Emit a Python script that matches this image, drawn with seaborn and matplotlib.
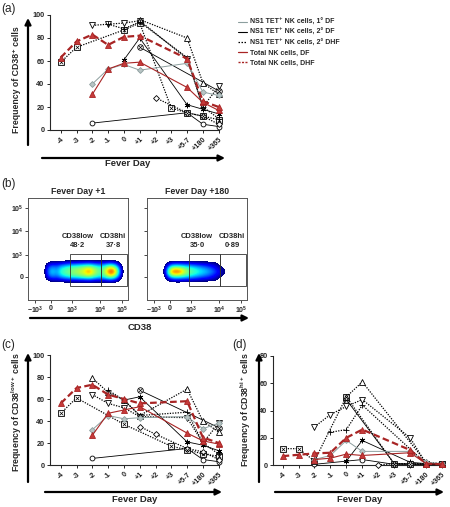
import numpy as np
import pandas as pd
import matplotlib
matplotlib.use("Agg")
import matplotlib.pyplot as plt
import seaborn as sns
from matplotlib.lines import Line2D
from matplotlib.patches import Rectangle

nan = np.nan

days = ["-4", "-3", "-2", "-1", "0", "+1", "+2", "+3", "+5-7", "+180", "+365"]

# (a) CD38+ frequency
a_dhf_total = [63, 77, 83, 74, 81, 82, nan, nan, 62, 25, 20]
a_df_total = [nan, nan, 31, 53, 58, 59, nan, nan, 37, 24, 17]
a_grey = [nan, nan, 40, 53, 57, 52, nan, nan, 58, 33, 30]
a_s_circle = [nan, nan, 6, nan, nan, nan, nan, nan, 15, 5, 3]
a_s_otimes = [nan, nan, nan, nan, nan, 72, nan, nan, nan, nan, 34]
a_s_star = [nan, nan, nan, nan, 61, 80, nan, nan, 22, 18, 14]
a_d_vtri = [nan, nan, 91, 92, 93, 95, nan, nan, 62, 20, 38]
a_d_boxx = [59, 72, nan, nan, 87, 93, nan, 19, 15, 12, 9]
a_d_tri = [nan, nan, nan, nan, nan, 96, nan, nan, 80, 41, 31]
a_d_diam = [nan, nan, nan, nan, nan, nan, 28, nan, 15, 12, 5]
a_d_plus = [nan, nan, nan, 92, 88, 94, nan, nan, 63, 20, 10]

# (c) CD38low+ frequency
c_dhf_total = [56, 70, 73, 64, 60, 56, nan, nan, 58, 25, 20]
c_df_total = [nan, nan, 27, 47, 50, 53, nan, nan, 29, 22, 19]
c_grey = [nan, nan, 32, 45, 42, 43, nan, nan, 44, 33, 38]
c_s_circle = [nan, nan, 6, nan, nan, nan, nan, nan, 15, 5, 3]
c_s_otimes = [nan, nan, nan, nan, nan, 68, nan, nan, nan, nan, 34]
c_s_star = [nan, nan, nan, nan, 59, 62, nan, nan, 21, 18, 13]
c_d_vtri = [nan, nan, 64, 56, 52, 44, nan, nan, 43, 20, 38]
c_d_boxx = [47, 61, nan, nan, 37, nan, nan, 17, 14, 10, 8]
c_d_tri = [nan, nan, 79, 66, 59, 45, nan, nan, 69, 40, 30]
c_d_diam = [nan, nan, nan, nan, nan, 35, 28, nan, 15, 12, 5]
c_d_plus = [nan, nan, nan, 68, 59, 45, nan, nan, 48, 20, 10]

# (d) CD38hi+ frequency
d_dhf_total = [6.5, 7.5, 8.5, 9, 20, 26, nan, nan, 11, 1, 0.5]
d_df_total = [nan, nan, 4, 5, 8, 7, nan, nan, 9, 1, 0.5]
d_grey = [nan, nan, 4, 7, 18, 10, nan, nan, 10, 2, 1]
d_s_circle = [nan, nan, 0.5, nan, nan, 4, nan, 0.5, 0.5, 0.5, 0.5]
d_s_otimes = [nan, nan, nan, nan, 48, nan, nan, 1, nan, nan, 0.5]
d_s_star = [nan, nan, nan, nan, 3, 18, nan, nan, 2, 1, 0.5]
d_d_vtri = [nan, nan, 28, 37, 43, 48, nan, nan, 20, 1, 1]
d_d_boxx = [12, 12, 3, nan, 50, nan, nan, 1, 1, 1, 0.5]
d_d_tri = [nan, nan, nan, nan, 50, 61, nan, nan, nan, 2, 1]
d_d_diam = [nan, nan, nan, nan, nan, nan, 0, 1, 0.5, 0.5, 0.5]
d_d_plus = [nan, nan, nan, 24, 26, 44, nan, nan, nan, 1, 0.5]

# (b) flow cytometry density (rows bottom->top, CD38 channel left->right)
flow_day1 = [
    [0] * 19,
    [0, 0.10, 0.14, 0.14, 0.15, 0.17, 0.18, 0.18, 0.20, 0.20, 0.22, 0.20, 0.18, 0.18, 0.20, 0.22, 0.18, 0.08, 0],
    [0, 0.25, 0.34, 0.30, 0.40, 0.45, 0.50, 0.52, 0.55, 0.58, 0.62, 0.56, 0.48, 0.45, 0.58, 0.68, 0.52, 0.22, 0],
    [0, 0.30, 0.42, 0.34, 0.48, 0.52, 0.56, 0.58, 0.62, 0.68, 0.82, 0.68, 0.55, 0.50, 0.72, 0.95, 0.75, 0.30, 0],
    [0, 0.25, 0.34, 0.30, 0.40, 0.45, 0.50, 0.52, 0.55, 0.58, 0.62, 0.56, 0.48, 0.45, 0.58, 0.68, 0.52, 0.22, 0],
    [0, 0.10, 0.14, 0.14, 0.15, 0.17, 0.18, 0.18, 0.20, 0.20, 0.22, 0.20, 0.18, 0.18, 0.20, 0.22, 0.18, 0.08, 0],
    [0] * 19,
]
flow_day180 = [
    [0] * 19,
    [0, 0.08, 0.14, 0.16, 0.16, 0.15, 0.15, 0.14, 0.13, 0.12, 0.12, 0.11, 0.10, 0, 0, 0, 0, 0, 0],
    [0, 0.22, 0.50, 0.55, 0.52, 0.48, 0.44, 0.40, 0.36, 0.32, 0.28, 0.23, 0.17, 0.12, 0.06, 0, 0, 0, 0],
    [0, 0.35, 0.82, 0.90, 0.85, 0.65, 0.55, 0.50, 0.45, 0.42, 0.38, 0.33, 0.25, 0.15, 0.10, 0, 0, 0, 0],
    [0, 0.22, 0.50, 0.55, 0.52, 0.48, 0.44, 0.40, 0.36, 0.32, 0.28, 0.23, 0.17, 0.12, 0.06, 0, 0, 0, 0],
    [0, 0.08, 0.14, 0.16, 0.16, 0.15, 0.15, 0.14, 0.13, 0.12, 0.12, 0.11, 0.10, 0, 0, 0, 0, 0, 0],
    [0] * 19,
]
gate_day1 = ["48·2", "37·8"]
gate_day180 = ["35·0", "0·89"]

RED = "#a82424"
RED_FACE = "#c63a3a"
GREY = "#8c9e9e"

sns.set_style("ticks")
plt.rcParams["font.family"] = ["Liberation Sans", "DejaVu Sans"]
plt.rcParams["font.weight"] = "bold"
plt.rcParams["mathtext.fontset"] = "custom"
plt.rcParams["mathtext.rm"] = "Liberation Sans:bold"
plt.rcParams["mathtext.bf"] = "Liberation Sans:bold"
plt.rcParams["mathtext.it"] = "Liberation Sans:bold"

dot = (0, (1, 1.1))
styles = {
    "s_circle": dict(color="black", ls="-", lw=0.6, marker="o", mfc="white", mec="black", ms=3.5, x=False, z=3),
    "s_otimes": dict(color="black", ls="-", lw=0.6, marker="o", mfc="white", mec="black", ms=4, x=True, z=3),
    "s_star": dict(color="black", ls="-", lw=0.6, marker=(6, 2, 0), mfc="black", mec="black", ms=4, x=False, z=3),
    "d_vtri": dict(color="black", ls=dot, lw=0.9, marker="v", mfc="white", mec="black", ms=4, x=False, z=3),
    "d_boxx": dict(color="black", ls=dot, lw=0.9, marker="s", mfc="white", mec="black", ms=4, x=True, z=3),
    "d_tri": dict(color="black", ls=dot, lw=0.9, marker="^", mfc="white", mec="black", ms=4, x=False, z=3),
    "d_diam": dict(color="black", ls=dot, lw=0.9, marker="D", mfc="white", mec="black", ms=3, x=False, z=3),
    "d_plus": dict(color="black", ls=dot, lw=0.9, marker="+", mfc="black", mec="black", ms=4.5, x=False, z=3),
    "grey": dict(color=GREY, ls="-", lw=0.7, marker="D", mfc="#b8c4c4", mec=GREY, ms=3, x=False, z=4),
    "df_total": dict(color=RED, ls="-", lw=0.8, marker="^", mfc=RED_FACE, mec=RED, ms=4, x=False, z=5),
    "dhf_total": dict(color=RED, ls=(0, (3, 1.5)), lw=1.6, marker="^", mfc=RED_FACE, mec=RED, ms=4, x=False, z=6),
}

fig = plt.figure(figsize=(4.5, 5.07), dpi=100)


def draw_series(ax, values, st):
    df = pd.DataFrame({"day": range(len(days)), "val": values}).dropna()
    sns.lineplot(data=df, x="day", y="val", ax=ax, color=st["color"], linestyle=st["ls"],
                 linewidth=st["lw"], marker=st["marker"], markersize=st["ms"],
                 markerfacecolor=st["mfc"], markeredgecolor=st["mec"], markeredgewidth=0.6,
                 errorbar=None, zorder=st["z"], clip_on=False)
    if st["x"]:
        sns.scatterplot(data=df, x="day", y="val", ax=ax, marker="x", s=7, color="black",
                        linewidth=0.5, zorder=st["z"] + 0.1, clip_on=False)


def setup_ax(ax, ymax, xmin, xmax):
    ax.set_xlim(xmin, xmax)
    ax.set_ylim(0, ymax)
    ax.set_xticks(range(len(days)))
    ax.set_xticklabels(days, rotation=45, ha="right", rotation_mode="anchor")
    ax.set_yticks(range(0, ymax + 1, 20))
    sns.despine(ax=ax)
    ax.tick_params(length=2.5, width=0.7, pad=1.5, labelsize=5.2)
    for sp in ax.spines.values():
        sp.set_linewidth(0.8)
    ax.set_xlabel("")
    ax.set_ylabel("")


panels = [
    ([50 / 450, 1 - 130 / 507, 169 / 450, 115 / 507], 100, -0.68, 10.02,
     dict(s_circle=a_s_circle, s_otimes=a_s_otimes, s_star=a_s_star, d_vtri=a_d_vtri,
          d_boxx=a_d_boxx, d_tri=a_d_tri, d_diam=a_d_diam, d_plus=a_d_plus,
          grey=a_grey, df_total=a_df_total, dhf_total=a_dhf_total)),
    ([50 / 450, 1 - 465 / 507, 169 / 450, 110 / 507], 100, -0.68, 10.02,
     dict(s_circle=c_s_circle, s_otimes=c_s_otimes, s_star=c_s_star, d_vtri=c_d_vtri,
          d_boxx=c_d_boxx, d_tri=c_d_tri, d_diam=c_d_diam, d_plus=c_d_plus,
          grey=c_grey, df_total=c_df_total, dhf_total=c_dhf_total)),
    ([273 / 450, 1 - 465 / 507, 169 / 450, 109 / 507], 80, -0.6, 10.0,
     dict(s_circle=d_s_circle, s_otimes=d_s_otimes, s_star=d_s_star, d_vtri=d_d_vtri,
          d_boxx=d_d_boxx, d_tri=d_d_tri, d_diam=d_d_diam, d_plus=d_d_plus,
          grey=d_grey, df_total=d_df_total, dhf_total=d_dhf_total)),
]

for rect, ymax, xmin, xmax, series in panels:
    ax = fig.add_axes(rect)
    for name, vals in series.items():
        draw_series(ax, vals, styles[name])
    setup_ax(ax, ymax, xmin, xmax)

# flow panels
cmap = plt.get_cmap("jet").copy()
cmap.set_under("white")
xt_pos = [0.07, 0.23, 0.44, 0.72, 0.94]
xt_lab = [r"$-10^{3}$", "0", r"$10^{3}$", r"$10^{4}$", r"$10^{5}$"]
yt_pos = [0.23, 0.44, 0.68, 0.90]
yt_lab = ["0", r"$10^{3}$", r"$10^{4}$", r"$10^{5}$"]
gx = [0.42, 0.73, 0.99]
gy = [0.14, 0.45]

flows = [
    (28, flow_day1, gate_day1, "Fever Day +1", True),
    (147, flow_day180, gate_day180, "Fever Day +180", False),
]
for left, grid, gates, title, ylabels in flows:
    fx = fig.add_axes([left / 450, 1 - 300 / 507, 100 / 450, 102 / 507])
    fx.imshow(np.array(grid), extent=[0.1325, 0.9875, 0.13, 0.43], origin="lower",
              aspect="auto", cmap=cmap, vmin=0.09, vmax=1.0,
              interpolation="bicubic", interpolation_stage="data")
    fx.set_xlim(0, 1)
    fx.set_ylim(0, 1)
    for i in range(2):
        fx.add_patch(Rectangle((gx[i], gy[0]), gx[i + 1] - gx[i], gy[1] - gy[0],
                               fill=False, lw=0.6, ec="#333333", zorder=5))
    fx.text(0.50, 0.58, "CD38low\n" + gates[0], ha="center", va="center",
            fontsize=5.5, linespacing=1.4)
    fx.text(0.85, 0.58, "CD38hi\n" + gates[1], ha="center", va="center",
            fontsize=5.5, linespacing=1.4)
    fx.set_xticks(xt_pos)
    fx.set_xticklabels(xt_lab)
    fx.set_yticks(yt_pos)
    fx.set_yticklabels(yt_lab if ylabels else [])
    fx.tick_params(length=2, width=0.6, pad=1.5, labelsize=5)
    for sp in fx.spines.values():
        sp.set_linewidth(0.7)
        sp.set_color("#555555")
    fx.set_title(title, fontsize=6.3, fontweight="bold", pad=3)

# overlay for arrows and labels
ov = fig.add_axes([0, 0, 1, 1], facecolor="none")
ov.set_xlim(0, 450)
ov.set_ylim(507, 0)
ov.axis("off")

arrow = dict(arrowstyle="-|>", lw=1.6, color="black", mutation_scale=9, shrinkA=0, shrinkB=0)
for (x0, y0, x1, y1) in [(28, 145, 28, 18), (42, 158, 225, 158),
                         (28, 482, 28, 353), (45, 492, 222, 492),
                         (259, 482, 259, 353), (275, 492, 444, 492),
                         (30, 318, 249, 318)]:
    ov.annotate("", xy=(x1, y1), xytext=(x0, y0), arrowprops=arrow)

ov.text(17, 80, "Frequency of CD38⁺ cells", rotation=90, ha="center", va="center", fontsize=6.3)
ov.text(17, 412, r"Frequency of CD38$^{low+}$ cells", rotation=90, ha="center", va="center", fontsize=6.3)
ov.text(246, 410, r"Frequency of CD38$^{hi+}$ cells", rotation=90, ha="center", va="center", fontsize=6.3)
ov.text(128, 164, "Fever Day", ha="center", va="center", fontsize=6.8)
ov.text(135, 500, "Fever Day", ha="center", va="center", fontsize=6.8)
ov.text(360, 500, "Fever Day", ha="center", va="center", fontsize=6.8)
ov.text(140, 327, "CD38", ha="center", va="center", fontsize=6.8)

for lab, x, y in [("(a)", 1, 9), ("(b)", 1, 184), ("(c)", 1, 345), ("(d)", 232, 345)]:
    ov.text(x, y, lab, ha="left", va="center", fontsize=8.5, fontweight="normal")

handles = [
    Line2D([], [], color=GREY, lw=0.8),
    Line2D([], [], color="black", lw=0.8),
    Line2D([], [], color="black", lw=0.9, ls=(0, (1.2, 1.2))),
    Line2D([], [], color=RED, lw=0.9),
    Line2D([], [], color=RED, lw=1.0, ls=(0, (1.5, 1))),
]
labels = ["NS1 TET⁺ NK cells, 1° DF", "NS1 TET⁺ NK cells, 2° DF", "NS1 TET⁺ NK cells, 2° DHF",
          "Total NK cells, DF", "Total NK cells, DHF"]
fig.legend(handles, labels, loc="upper left", bbox_to_anchor=(238 / 450, 1 - 19 / 507),
           frameon=False, fontsize=5, handlelength=1.3, handletextpad=0.5,
           labelspacing=0.45, borderaxespad=0, borderpad=0)

fig.savefig("out.png", dpi=100)
